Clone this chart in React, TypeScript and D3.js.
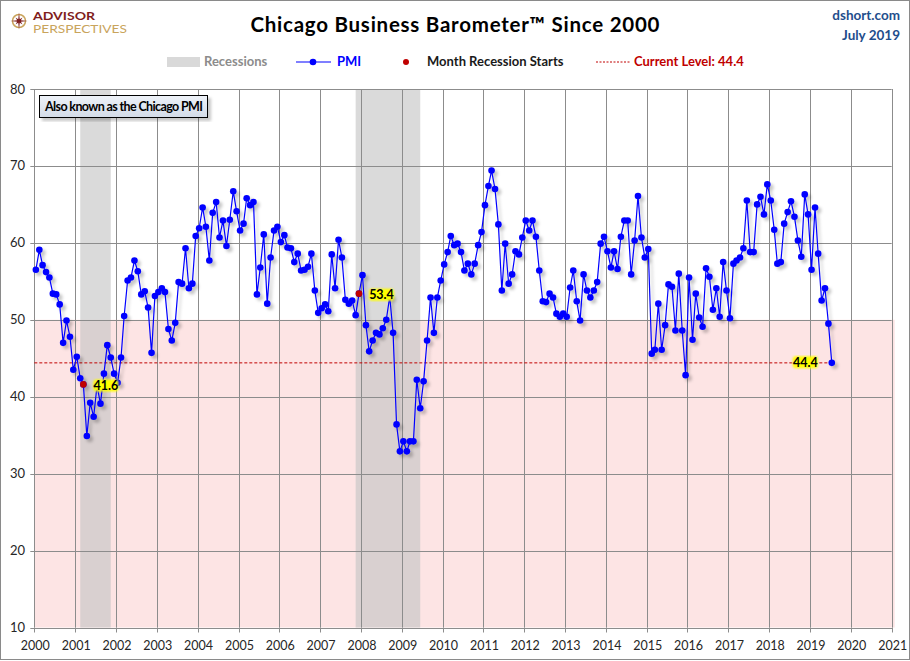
import { useEffect, useRef } from "react";
import * as d3 from "d3";

// Monthly Chicago PMI, Jan 2000 .. Jul 2019
const pmiValues: number[] = [
  // 2000
  56.5, 59.1, 57.1, 56.2, 55.5, 53.4, 53.3, 52.0, 47.0, 49.9, 47.8, 43.5,
  // 2001
  45.2, 42.4, 41.6, 34.9, 39.2, 37.4, 41.4, 39.1, 43.0, 46.7, 45.1, 43.0,
  // 2002
  41.8, 45.1, 50.5, 55.1, 55.5, 57.7, 56.3, 53.3, 53.7, 51.6, 45.7, 53.1,
  // 2003
  53.6, 54.1, 53.6, 48.8, 47.3, 49.6, 54.9, 54.7, 59.3, 54.1, 54.7, 60.9,
  // 2004
  61.9, 64.6, 62.1, 57.7, 63.9, 65.3, 60.7, 62.9, 59.6, 63.0, 66.7, 64.1,
  // 2005
  61.6, 62.5, 65.8, 64.9, 65.3, 53.3, 56.8, 61.1, 52.1, 58.1, 61.6, 62.1,
  // 2006
  60.1, 61.0, 59.4, 59.3, 57.5, 58.6, 56.4, 56.5, 56.9, 58.6, 53.8, 50.9,
  // 2007
  51.5, 52.0, 51.1, 58.5, 54.1, 60.4, 58.1, 52.6, 52.1, 52.5, 50.6, 53.4,
  // 2008
  55.8, 49.3, 45.9, 47.3, 48.3, 48.1, 48.9, 50.0, 53.0, 48.3, 36.4, 32.9,
  // 2009
  34.2, 32.9, 34.2, 34.2, 42.2, 38.5, 42.0, 47.3, 52.9, 48.3, 52.9, 55.1,
  // 2010
  57.2, 58.8, 60.9, 59.7, 59.9, 58.8, 56.4, 57.3, 55.9, 57.3, 59.7, 61.4,
  // 2011
  64.9, 67.4, 69.4, 67.0, 62.4, 53.8, 59.9, 54.7, 55.9, 58.9, 58.5, 60.7,
  // 2012
  62.9, 61.6, 62.9, 60.8, 56.4, 52.4, 52.3, 53.4, 52.9, 50.8, 50.4, 50.8,
  // 2013
  50.4, 54.2, 56.4, 52.4, 49.9, 55.9, 53.8, 52.9, 53.8, 54.9, 59.9, 60.8,
  // 2014
  58.9, 56.8, 58.9, 56.6, 60.8, 62.9, 62.9, 55.9, 60.3, 66.1, 60.7, 58.1,
  // 2015
  59.2, 45.6, 46.1, 52.1, 46.1, 49.3, 54.6, 54.3, 48.6, 56.0, 48.6, 42.8,
  // 2016
  55.5, 47.4, 53.4, 50.3, 49.1, 56.7, 55.6, 51.3, 54.1, 50.4, 57.5, 53.8,
  // 2017
  50.2, 57.3, 57.7, 58.1, 59.3, 65.5, 58.8, 58.8, 65.0, 66.0, 63.7, 67.6,
  // 2018
  65.5, 61.7, 57.3, 57.5, 62.5, 64.0, 65.4, 63.4, 60.3, 58.2, 66.3, 63.7,
  // 2019
  56.5, 64.6, 58.6, 52.5, 54.1, 49.5, 44.4,
];

// recession shading (start, end)
const recessions: Array<[string, string]> = [
  ["2001-02-15", "2001-11-15"],
  ["2007-11-15", "2009-06-15"],
];
// month index of recession start + its label
const recessionStarts = [14, 95];
const recessionLabels = ["41.6", "53.4"];

const currentLevel = 44.4;
const yTicks = [10, 20, 30, 40, 50, 60, 70, 80];
const xYears = d3.range(2000, 2022);

const FONT = "Lato, 'Open Sans', sans-serif";

export default function App() {
  const svgRef = useRef<SVGSVGElement>(null);

  useEffect(() => {
    document.body.style.margin = "0";
    if (!svgRef.current) return;
    const svg = d3.select(svgRef.current);
    svg.selectAll("*").remove();

    const W = 910;
    const H = 661;
    const left = 34.3;
    const right = 891.7;
    const top = 89;
    const bottom = 627.5;

    const x = d3
      .scaleTime()
      .domain([new Date(2000, 0, 1), new Date(2021, 0, 1)])
      .range([left, right]);
    const y = d3.scaleLinear().domain([10, 80]).range([bottom, top]);

    const data = pmiValues.map((v, i) => ({ date: new Date(2000, i, 15), v }));

    const defs = svg.append("defs");
    const sh = defs
      .append("filter")
      .attr("id", "shadow")
      .attr("x", "-10%")
      .attr("y", "-10%")
      .attr("width", "130%")
      .attr("height", "130%");
    sh.append("feDropShadow")
      .attr("dx", 3)
      .attr("dy", 3)
      .attr("stdDeviation", 1.6)
      .attr("flood-color", "#000")
      .attr("flood-opacity", 0.22);

    const glow = defs.append("filter").attr("id", "glow");
    glow.append("feGaussianBlur").attr("stdDeviation", 1.2);

    const boxGrad = defs
      .append("linearGradient")
      .attr("id", "boxGrad")
      .attr("x1", 0)
      .attr("y1", 0)
      .attr("x2", 0)
      .attr("y2", 1);
    boxGrad.append("stop").attr("offset", "0%").attr("stop-color", "#eef2f8");
    boxGrad.append("stop").attr("offset", "100%").attr("stop-color", "#d3dbe7");

    // background + frame
    svg.append("rect").attr("width", W).attr("height", H).attr("fill", "#fff");
    svg
      .append("rect")
      .attr("x", 0.5)
      .attr("y", 0.5)
      .attr("width", W - 1)
      .attr("height", H - 2)
      .attr("fill", "none")
      .attr("stroke", "#8a8a8a");

    // pink contraction zone
    svg
      .append("rect")
      .attr("x", left)
      .attr("y", y(50))
      .attr("width", right - left + 3)
      .attr("height", y(10) - y(50))
      .attr("fill", "#fde4e4");

    // recessions
    svg
      .selectAll(".rec")
      .data(recessions)
      .join("rect")
      .attr("x", (d) => x(new Date(d[0])))
      .attr("y", top)
      .attr("width", (d) => x(new Date(d[1])) - x(new Date(d[0])))
      .attr("height", bottom - top)
      .attr("fill", "#c4c4c4")
      .attr("opacity", 0.62);

    // grid
    svg
      .selectAll(".hg")
      .data(yTicks.filter((t) => t > 10))
      .join("line")
      .attr("x1", left)
      .attr("x2", right)
      .attr("y1", (d) => Math.round(y(d)) + 0.5)
      .attr("y2", (d) => Math.round(y(d)) + 0.5)
      .attr("stroke", "#8c8c8c");
    svg
      .selectAll(".vg")
      .data(xYears.slice(1))
      .join("line")
      .attr("x1", (d) => Math.round(x(new Date(d, 0, 1))) + 0.5)
      .attr("x2", (d) => Math.round(x(new Date(d, 0, 1))) + 0.5)
      .attr("y1", top)
      .attr("y2", bottom)
      .attr("stroke", "#8c8c8c");

    // axes
    svg
      .append("line")
      .attr("x1", Math.round(left) + 0.5)
      .attr("x2", Math.round(left) + 0.5)
      .attr("y1", top)
      .attr("y2", bottom)
      .attr("stroke", "#8c8c8c");
    svg
      .append("line")
      .attr("x1", left)
      .attr("x2", right + 1)
      .attr("y1", Math.round(bottom) + 0.5)
      .attr("y2", Math.round(bottom) + 0.5)
      .attr("stroke", "#8c8c8c");
    svg
      .selectAll(".yt")
      .data(yTicks)
      .join("line")
      .attr("x1", left - 4)
      .attr("x2", left)
      .attr("y1", (d) => Math.round(y(d)) + 0.5)
      .attr("y2", (d) => Math.round(y(d)) + 0.5)
      .attr("stroke", "#8c8c8c");
    svg
      .selectAll(".xt")
      .data(xYears)
      .join("line")
      .attr("x1", (d) => Math.round(x(new Date(d, 0, 1))) + 0.5)
      .attr("x2", (d) => Math.round(x(new Date(d, 0, 1))) + 0.5)
      .attr("y1", bottom)
      .attr("y2", bottom + 5)
      .attr("stroke", "#8c8c8c");

    svg
      .selectAll(".yl")
      .data(yTicks)
      .join("text")
      .attr("x", 25)
      .attr("y", (d) => y(d) + 4.5)
      .attr("text-anchor", "end")
      .attr("font-family", FONT)
      .attr("font-size", 13)
      .attr("fill", "#262626")
      .text((d) => d);
    svg
      .selectAll(".xl")
      .data(xYears)
      .join("text")
      .attr("x", (d) => x(new Date(d, 0, 1)) + 1)
      .attr("y", 650)
      .attr("text-anchor", "middle")
      .attr("font-family", FONT)
      .attr("font-size", 12.5)
      .attr("fill", "#262626")
      .text((d) => d);

    // current level dashed line
    const last = data[data.length - 1];
    svg
      .append("line")
      .attr("x1", left)
      .attr("x2", x(last.date))
      .attr("y1", y(currentLevel))
      .attr("y2", y(currentLevel))
      .attr("stroke", "#c00000")
      .attr("stroke-width", 1)
      .attr("stroke-dasharray", "3,2");

    // PMI series
    const g = svg.append("g").attr("filter", "url(#shadow)");
    const line = d3
      .line<{ date: Date; v: number }>()
      .x((d) => x(d.date))
      .y((d) => y(d.v));
    g.append("path")
      .datum(data)
      .attr("d", line)
      .attr("fill", "none")
      .attr("stroke", "#0000ff")
      .attr("stroke-width", 1.2);
    g.selectAll("circle")
      .data(data)
      .join("circle")
      .attr("cx", (d) => x(d.date))
      .attr("cy", (d) => y(d.v))
      .attr("r", 3.3)
      .attr("fill", "#0000ff");

    // recession start markers
    svg
      .selectAll(".rs")
      .data(recessionStarts)
      .join("circle")
      .attr("cx", (i) => x(data[i].date))
      .attr("cy", (i) => y(data[i].v))
      .attr("r", 3.3)
      .attr("fill", "#c00000");

    const addLabel = (cx: number, cy: number, text: string, anchor: "start" | "end") => {
      const tw = 23;
      const x0 = anchor === "start" ? cx : cx - tw;
      svg
        .append("rect")
        .attr("x", x0 - 1)
        .attr("y", cy - 6)
        .attr("width", tw + 2)
        .attr("height", 12)
        .attr("rx", 3)
        .attr("fill", "#ffff00")
        .attr("filter", "url(#glow)");
      svg
        .append("text")
        .attr("x", x0 + tw / 2)
        .attr("y", cy + 4.5)
        .attr("text-anchor", "middle")
        .attr("font-family", FONT)
        .attr("font-weight", 700)
        .attr("font-size", 12.5)
        .attr("fill", "#000")
        .text(text);
    };
    recessionStarts.forEach((i, k) =>
      addLabel(x(data[i].date) + 11, y(data[i].v) + 1, recessionLabels[k], "start")
    );
    addLabel(x(last.date) - 15, y(currentLevel) - 0.5, currentLevel.toFixed(1), "end");

    // "Also known as" box
    const bx = svg.append("g").attr("filter", "url(#shadow)");
    bx.append("rect")
      .attr("x", 39.5)
      .attr("y", 95.5)
      .attr("width", 168)
      .attr("height", 22)
      .attr("fill", "url(#boxGrad)")
      .attr("stroke", "#000");
    svg
      .append("text")
      .attr("x", 45)
      .attr("y", 111)
      .attr("font-family", FONT)
      .attr("font-size", 12.5)
      .attr("font-weight", 700)
      .attr("fill", "#000")
      .attr("textLength", 158)
      .text("Also known as the Chicago PMI");

    // title
    svg
      .append("text")
      .attr("x", 455)
      .attr("y", 32)
      .attr("text-anchor", "middle")
      .attr("font-family", FONT)
      .attr("font-weight", 700)
      .attr("font-size", 20.5)
      .attr("fill", "#000")
      .attr("textLength", 409)
      .text("Chicago Business Barometer\u2122 Since 2000");

    svg
      .append("text")
      .attr("x", 900)
      .attr("y", 20)
      .attr("text-anchor", "end")
      .attr("font-family", FONT)
      .attr("font-size", 13.5)
      .attr("font-weight", 700)
      .attr("fill", "#1f4e8c")
      .text("dshort.com");
    svg
      .append("text")
      .attr("x", 900)
      .attr("y", 40)
      .attr("text-anchor", "end")
      .attr("font-family", FONT)
      .attr("font-size", 13.5)
      .attr("font-weight", 700)
      .attr("fill", "#1f4e8c")
      .text("July 2019");

    // logo
    const logo = svg.append("g");
    logo
      .append("circle")
      .attr("cx", 19)
      .attr("cy", 21)
      .attr("r", 6.5)
      .attr("fill", "none")
      .attr("stroke", "#c9a45c")
      .attr("stroke-width", 1.5);
    const star = d3.range(16).map((k) => {
      const a = (k * Math.PI) / 8 - Math.PI / 2;
      const r = k % 4 === 0 ? 8.5 : k % 2 === 0 ? 5 : 2;
      return [19 + r * Math.cos(a), 21 + r * Math.sin(a)] as [number, number];
    });
    logo
      .append("path")
      .attr("d", d3.line()(star) + "Z")
      .attr("fill", "#7f1d1d");
    logo
      .append("text")
      .attr("x", 33)
      .attr("y", 19.5)
      .attr("font-family", FONT)
      .attr("font-weight", 700)
      .attr("font-size", 11.5)
      .attr("fill", "#7f1d1d")
      .attr("textLength", 62)
      .attr("lengthAdjust", "spacingAndGlyphs")
      .text("ADVISOR");
    logo
      .append("text")
      .attr("x", 33)
      .attr("y", 32.5)
      .attr("font-family", FONT)
      .attr("font-size", 11)
      .attr("fill", "#c9a45c")
      .attr("textLength", 94)
      .attr("lengthAdjust", "spacingAndGlyphs")
      .text("PERSPECTIVES");

    // legend
    const lg = svg.append("g").attr("font-family", FONT).attr("font-size", 13).attr("font-weight", 700);
    lg.append("rect").attr("x", 167).attr("y", 57).attr("width", 33).attr("height", 10).attr("fill", "#d9d9d9");
    lg.append("text").attr("x", 204).attr("y", 66).attr("fill", "#8c8c8c").text("Recessions");
    lg.append("line").attr("x1", 296).attr("x2", 331).attr("y1", 62).attr("y2", 62).attr("stroke", "#0000ff").attr("stroke-width", 1.2);
    lg.append("circle").attr("cx", 313).attr("cy", 62).attr("r", 3.3).attr("fill", "#0000ff");
    lg.append("text").attr("x", 337).attr("y", 66).attr("fill", "#0000ff").text("PMI");
    lg.append("circle").attr("cx", 406).attr("cy", 62).attr("r", 3).attr("fill", "#c00000");
    lg.append("text").attr("x", 427).attr("y", 66).attr("fill", "#1a1a1a").text("Month Recession Starts");
    lg.append("line").attr("x1", 596).attr("x2", 630).attr("y1", 62).attr("y2", 62).attr("stroke", "#c00000").attr("stroke-dasharray", "2,1.5");
    lg.append("text").attr("x", 634).attr("y", 66).attr("fill", "#c00000").text("Current Level: 44.4");
  }, []);

  return <svg ref={svgRef} width={910} height={661} style={{ display: "block" }} />;
}
